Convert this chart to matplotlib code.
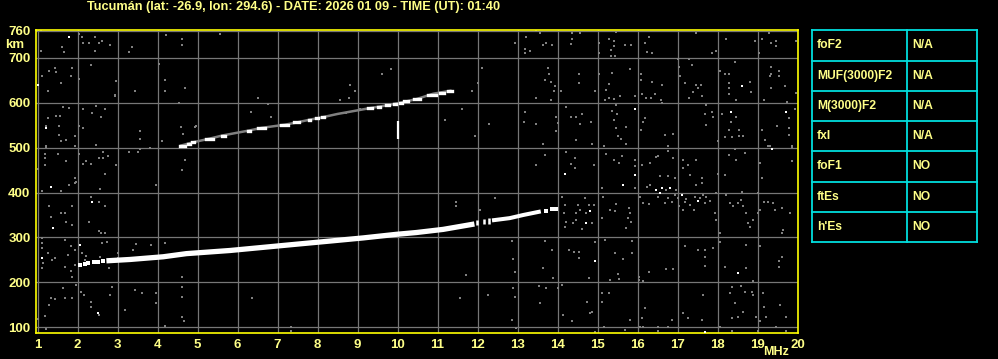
import matplotlib.pyplot as plt
import numpy as np

plt.rcParams['font.family'] = ['Liberation Sans', 'DejaVu Sans']

title = 'Tucumán (lat: -26.9, lon: 294.6) - DATE: 2026 01 09 - TIME (UT): 01:40'
freq_ticks = list(range(1, 21))
height_ticks = [100, 200, 300, 400, 500, 600, 700, 760]

param_names = ['foF2', 'MUF(3000)F2', 'M(3000)F2', 'fxI', 'foF1', 'ftEs', "h'Es"]
param_values = ['N/A', 'N/A', 'N/A', 'N/A', 'NO', 'NO', 'NO']

# main F trace (MHz, km)
trace_f = [2.72, 3.31, 4.14, 4.72, 5.81, 6.64, 7.47, 8.31, 9.14, 9.97, 10.47, 11.14, 11.92]
trace_h = [248, 251, 257, 264, 271, 278, 285, 292, 299, 307, 311, 318, 330]
tail_f = [12.36, 12.8, 13.14, 13.58]
tail_h = [338, 343, 350, 358]
trace_start = [(2.07, 239), (2.18, 242), (2.27, 244), (2.4, 245), (2.52, 245), (2.64, 247)]
gap_bars = [(11.99, 328, 338), (12.16, 329, 341), (12.29, 331, 343)]
tail_dots = [(13.72, 360), (13.85, 363), (13.95, 364)]

# second hop trace
hop_f = [4.56, 4.89, 5.3, 5.62, 6.28, 6.6, 7.18, 7.48, 7.79, 7.97, 8.14, 8.5, 9.31, 9.52, 9.72, 10.07, 10.47, 10.89, 11.35]
hop_h = [504, 512, 520, 527, 538, 544, 551, 556, 562, 565, 568, 575, 588, 591, 594, 600, 608, 620, 627]
hop_dashes = [(4.56, 4.68, 504), (4.76, 4.8, 508), (4.87, 4.92, 512), (5.22, 5.39, 520), (5.6, 5.68, 527),
              (6.26, 6.3, 538), (6.52, 6.68, 544), (7.08, 7.27, 551), (7.42, 7.54, 556), (7.78, 7.81, 562),
              (7.95, 8.0, 565), (8.12, 8.17, 568), (9.25, 9.35, 588), (9.5, 9.55, 591), (9.7, 9.78, 594),
              (9.92, 9.96, 597), (10.05, 10.1, 600), (10.15, 10.25, 603), (10.4, 10.55, 609),
              (10.75, 10.95, 618), (11.05, 11.15, 622), (11.25, 11.35, 627)]
spike = (10.02, 519, 559)

gray_noise = [
    (1.08, 761), (2.04, 752), (2.1, 747), (2.43, 746), (4.22, 750), (4.6, 742), (4.62, 729), (5.57, 752),
    (1.62, 724), (1.67, 713), (2.14, 733), (2.29, 733), (2.53, 733), (2.62, 738), (2.82, 729), (2.43, 716),
    (3.29, 713), (3.37, 724), (1.08, 716), (4.03, 687), (2.33, 683), (1.28, 670), (1.43, 678), (1.47, 669),
    (1.87, 678), (1.83, 660), (1.1, 660), (1.58, 643), (2.03, 652), (2.97, 648), (4.18, 650), (4.68, 633),
    (1.27, 626), (3.43, 626), (4.18, 626), (2.93, 614), (2.93, 618), (4.53, 600), (1.64, 591), (1.78, 588),
    (2.14, 585), (2.37, 576), (2.47, 592), (2.58, 569), (2.68, 585), (1.27, 566), (1.47, 570), (1.57, 570),
    (1.2, 548), (1.54, 548), (2.03, 548), (2.14, 544), (1.53, 529), (1.58, 514), (1.72, 518), (1.93, 525),
    (2.47, 505), (3.56, 538), (3.56, 520), (3.82, 499), (4.12, 514), (4.58, 545), (4.64, 531), (4.93, 545),
    (4.97, 549), (1.2, 503), (1.22, 502), (1.93, 503), (1.18, 486), (1.18, 477), (1.52, 485), (1.72, 470),
    (2.03, 486), (2.14, 464), (2.33, 464), (2.22, 470), (2.54, 477), (2.64, 477), (2.77, 481), (2.64, 490),
    (2.96, 462), (1.18, 462), (1.02, 452), (1.93, 432), (1.95, 423), (2.68, 442), (3.28, 490), (3.56, 498),
    (3.52, 490), (4.68, 473), (4.6, 451), (9.6, 665), (9.83, 674), (8.82, 639), (8.93, 626), (8.78, 611),
    (8.57, 607), (6.52, 611), (6.77, 597), (6.33, 580), (6.83, 568), (8.72, 577), (9.06, 585),
    (13.47, 761), (13.57, 755), (13.22, 747), (12.93, 733), (13.18, 720), (13.18, 711), (13.32, 716),
    (13.64, 729), (13.72, 733), (13.87, 729), (14.37, 755), (14.57, 755), (14.35, 741), (14.33, 731),
    (15.03, 733), (15.03, 711), (15.28, 742), (15.41, 737), (15.33, 718), (15.41, 726), (15.33, 703),
    (15.43, 703), (15.47, 758), (15.68, 729), (15.83, 729), (16.18, 733), (16.24, 713), (16.37, 711),
    (16.28, 747), (17.47, 755), (17.87, 711), (17.97, 716), (18.22, 742), (18.93, 737), (19.03, 711),
    (19.12, 742), (19.29, 755), (19.33, 733), (19.47, 737), (19.47, 726), (19.97, 737),
    (12.12, 678), (12.02, 643), (11.87, 626), (13.77, 678), (13.78, 665), (13.68, 651), (13.83, 646),
    (13.93, 637), (13.92, 626), (13.47, 611), (13.83, 607), (14.08, 626), (14.53, 665), (14.53, 643),
    (14.93, 626), (15.03, 663), (15.28, 642), (15.22, 629), (15.37, 667), (15.29, 611), (15.42, 609),
    (15.18, 607), (15.56, 614), (15.82, 674), (15.93, 614), (16.08, 665), (16.08, 651), (16.37, 646),
    (16.62, 640), (16.11, 620), (16.22, 611), (16.33, 611), (16.43, 620), (16.58, 607), (16.62, 600),
    (17.01, 698), (17.04, 679), (17.07, 659), (17.18, 644), (17.37, 683), (17.29, 698), (17.47, 640),
    (17.58, 640), (17.52, 633), (17.39, 624), (17.6, 616), (17.29, 611), (18.06, 670), (18.18, 665),
    (18.28, 665), (18.43, 691), (18.29, 644), (18.28, 633), (18.29, 620), (18.47, 605), (18.82, 646),
    (18.83, 624), (19.33, 679), (19.33, 665), (19.31, 659), (19.53, 670), (19.53, 659), (19.68, 637),
    (19.33, 633), (19.17, 607), (19.74, 602), (19.95, 622),
    (11.62, 586), (11.18, 562), (12.28, 553), (11.93, 527), (13.18, 579), (13.17, 557), (13.47, 553),
    (13.97, 568), (13.97, 536), (14.0, 555), (14.22, 591), (14.33, 568), (14.46, 568), (14.62, 575),
    (14.57, 553), (14.83, 557), (14.47, 518), (14.87, 508), (15.35, 582), (15.47, 594), (15.49, 574),
    (15.41, 562), (15.45, 544), (15.72, 546), (15.51, 525), (15.58, 519), (15.72, 508), (16.08, 540),
    (16.18, 566), (16.14, 557), (16.68, 529), (16.89, 531), (16.77, 503), (17.72, 594), (17.87, 580),
    (17.68, 574), (17.89, 568), (17.72, 550), (18.12, 575), (18.46, 568), (18.33, 557), (18.28, 540),
    (18.54, 540), (18.18, 523), (18.37, 523), (18.54, 527), (18.64, 527), (18.02, 514), (19.12, 540),
    (19.18, 518), (19.49, 549), (19.78, 566), (19.78, 544), (19.78, 529), (19.93, 585), (19.87, 501),
    (19.31, 503), (13.68, 484), (13.47, 462), (13.64, 508), (14.21, 490), (14.43, 477), (14.43, 455),
    (14.33, 464), (14.9, 462), (15.17, 503), (15.22, 486), (15.6, 481), (15.41, 473), (15.54, 466),
    (15.93, 473), (15.93, 458), (16.12, 462), (16.32, 466), (16.47, 479), (16.51, 481), (16.77, 492),
    (16.89, 477), (16.57, 436), (16.77, 436), (16.93, 433), (17.14, 473), (17.27, 462), (17.14, 455),
    (17.31, 440), (17.47, 473), (17.62, 433), (18.02, 442), (18.28, 483), (18.43, 496), (18.68, 488),
    (18.18, 438), (18.47, 473), (19.07, 466), (19.27, 503), (19.87, 503), (19.87, 470), (19.12, 433),
    (1.12, 404), (1.58, 404), (1.78, 417), (1.93, 422), (2.57, 408), (3.97, 417), (1.28, 369), (1.58, 355),
    (1.68, 355), (1.72, 335), (1.87, 369), (1.33, 346), (1.87, 328), (2.33, 391), (2.53, 378), (2.28, 335),
    (2.68, 369), (2.53, 315), (2.58, 309), (2.68, 311), (1.12, 298), (1.12, 287), (1.12, 276), (1.14, 244),
    (1.37, 250), (1.43, 254), (1.27, 265), (1.68, 294), (1.77, 261), (1.83, 280), (1.93, 272), (2.1, 265),
    (2.21, 259), (2.18, 250), (2.56, 257), (2.74, 291), (2.62, 288), (1.12, 231), (1.68, 235), (1.83, 226),
    (1.93, 239), (1.87, 213), (1.97, 194), (2.08, 179), (2.16, 172), (2.78, 231), (3.0, 265), (3.0, 254),
    (3.39, 271), (3.46, 286), (3.83, 283), (4.18, 288), (1.64, 187), (1.33, 165), (1.43, 162), (1.68, 165),
    (1.87, 165), (1.28, 150), (1.18, 125), (1.02, 118), (1.22, 96), (2.33, 157), (2.33, 145), (2.53, 127),
    (2.81, 172), (2.87, 189), (3.18, 139), (3.43, 182), (3.62, 177), (3.97, 177), (3.97, 153), (4.18, 103),
    (4.62, 213), (4.62, 190), (4.6, 168), (4.62, 124), (4.67, 113), (7.33, 101), (7.33, 92), (6.37, 165),
    (14.12, 391), (14.18, 372), (14.17, 354), (14.22, 335), (14.18, 324), (14.39, 332), (14.47, 354),
    (14.46, 339), (14.52, 372), (14.57, 361), (14.6, 318), (14.68, 387), (14.72, 354), (14.78, 372),
    (14.91, 372), (14.85, 332), (15.12, 410), (15.14, 391), (15.1, 343), (15.31, 361), (15.45, 375),
    (15.43, 358), (15.78, 365), (15.81, 354), (15.77, 343), (15.83, 335), (15.72, 320), (15.93, 410),
    (16.06, 391), (16.14, 376), (16.24, 413), (16.31, 417), (16.28, 375), (16.52, 389), (16.72, 406),
    (16.77, 387), (16.68, 376), (16.85, 380), (16.93, 395), (16.97, 406), (17.0, 387), (17.04, 369),
    (17.18, 380), (17.14, 361), (17.22, 385), (17.31, 372), (17.43, 391), (17.41, 361), (17.47, 417),
    (17.56, 387), (17.62, 421), (17.64, 395), (17.68, 376), (17.72, 391), (17.81, 382), (17.93, 354),
    (17.97, 398), (17.95, 339), (18.07, 311), (18.22, 395), (18.32, 376), (18.39, 370), (18.51, 376),
    (18.58, 384), (18.6, 402), (18.64, 369), (18.72, 354), (18.77, 332), (18.81, 324), (18.89, 339),
    (19.02, 398), (19.02, 354), (19.06, 361), (19.16, 380), (19.27, 380), (19.39, 376), (19.43, 361),
    (19.62, 365), (19.64, 317), (19.62, 309), (19.82, 354),
    (12.87, 293), (12.89, 252), (12.93, 222), (12.89, 187), (12.93, 168), (12.96, 98), (12.85, 116),
    (11.47, 380), (11.47, 369), (11.72, 217), (11.56, 165), (12.06, 361), (12.27, 172), (12.43, 387),
    (13.54, 191), (13.56, 153), (13.64, 231), (13.72, 187), (13.87, 271), (13.89, 209), (14.02, 187),
    (14.12, 194), (14.14, 127), (14.37, 113), (13.68, 293), (14.29, 271), (14.42, 268), (14.53, 254),
    (14.53, 268), (14.93, 291), (14.78, 209), (14.81, 131), (14.93, 90), (15.18, 294), (15.43, 265),
    (15.64, 251), (15.87, 293), (15.87, 266), (15.52, 219), (15.54, 208), (15.31, 205), (15.12, 177),
    (15.29, 177), (15.12, 157), (15.17, 101), (14.74, 157), (14.85, 133), (15.81, 116), (15.68, 94),
    (16.04, 211), (16.04, 205), (16.14, 202), (16.29, 222), (16.18, 142), (16.12, 120), (16.06, 101),
    (16.72, 229), (16.89, 229), (16.52, 101), (16.87, 116), (16.77, 101), (16.14, 101), (17.18, 280),
    (17.52, 272), (17.68, 271), (17.89, 276), (17.68, 256), (17.68, 237), (18.06, 289), (18.18, 235),
    (18.35, 189), (18.43, 153), (18.72, 283), (18.72, 231), (18.89, 203), (19.06, 280), (19.62, 257),
    (19.54, 248), (19.54, 235), (18.97, 124), (19.14, 176), (19.17, 146), (19.2, 124), (19.06, 113),
    (19.56, 150), (19.72, 124), (19.47, 101), (18.64, 135), (18.51, 124), (18.35, 120), (18.06, 101),
    (17.64, 172), (17.62, 116), (17.14, 131), (17.27, 120), (18.31, 176), (18.58, 191), (18.68, 179),
    (18.87, 179), (18.89, 173), (19.02, 92), (19.72, 92), (18.35, 92), (16.52, 92),
]

white_noise = [
    (1.78, 747), (1.22, 544), (1.33, 412), (1.39, 320), (2.37, 378), (1.12, 254), (2.07, 283),
    (2.5, 131), (18.62, 637), (15.93, 586), (18.33, 579), (19.7, 579), (19.37, 496), (14.18, 441),
    (15.93, 438), (14.72, 333), (14.81, 358), (15.64, 417), (16.47, 406), (16.57, 400), (16.62, 410),
    (16.82, 410), (17.12, 395), (17.52, 382), (14.93, 248), (18.51, 220), (17.68, 90), (1.0, 640),
]

fig = plt.figure(figsize=(9.98, 3.59), dpi=100, facecolor='black')

# overlay in pixel coordinates for the table and loose labels
over = fig.add_axes([0, 0, 1, 1])
over.set_xlim(0, 998)
over.set_ylim(359, 0)
over.axis('off')
over.patch.set_alpha(0)

txt_col = '#ffff88'
cyan = '#00dede'

ax = fig.add_axes([36 / 998, (359 - 333) / 359, 762 / 998, 303.5 / 359])
ax.set_facecolor('black')
ax.set_xlim(0.96, 20.01)
ax.set_ylim(87.3, 763)

ax.set_xticks(freq_ticks)
ax.set_yticks(height_ticks)
ax.grid(True, color='#777777', lw=0.9)
ax.set_axisbelow(True)
ax.tick_params(length=0, colors=txt_col, labelsize=9.5, pad=4)
for lab in ax.get_xticklabels() + ax.get_yticklabels():
    lab.set_fontweight('bold')
for sp in ax.spines.values():
    sp.set_color('#ffff00')
    sp.set_linewidth(1.2)

gf, gh = zip(*gray_noise)
ax.scatter(gf, gh, s=3.5, marker='s', color='#808080', lw=0, zorder=2)

# second hop trace
ax.plot(hop_f, hop_h, color='#808080', lw=1.8, zorder=3, solid_capstyle='butt')
for f0, f1, h in hop_dashes:
    ax.plot([f0, f1], [h, h], color='white', lw=2.4, zorder=4, solid_capstyle='projecting')
ax.vlines(spike[0], spike[1], spike[2], color='white', lw=1.6, zorder=4)

# main trace
ax.plot(trace_f, trace_h, color='white', lw=3.8, zorder=4, solid_capstyle='butt')
ax.plot(tail_f, tail_h, color='white', lw=2.9, zorder=4, solid_capstyle='butt')
sf, sh = zip(*trace_start)
ax.scatter(sf, sh, s=7, marker='s', color='white', lw=0, zorder=4)
for f, lo, hi in gap_bars:
    ax.vlines(f, lo, hi, color='white', lw=1.8, zorder=4)
df, dh = zip(*tail_dots)
ax.scatter(df, dh, s=5, marker='s', color='white', lw=0, zorder=4)

wf, wh = zip(*white_noise)
ax.scatter(wf, wh, s=4, marker='s', color='white', lw=0, zorder=5)

# loose labels
over.text(294, 7, title, color=txt_col, fontsize=9.2, fontweight='bold', ha='center', va='center')
over.text(5, 45, 'km', color=txt_col, fontsize=9.5, fontweight='bold', ha='left', va='center')
over.text(789, 352, 'MHz', color=txt_col, fontsize=9, fontweight='bold', ha='right', va='center')

# parameter table
left, mid, right = 812, 907, 977
top, row_h = 30.3, 30.24
n = len(param_names)
for i in range(n + 1):
    over.plot([left, right], [top + i * row_h] * 2, color=cyan, lw=1.3)
for x in (left, mid, right):
    over.plot([x, x], [top, top + n * row_h], color=cyan, lw=1.3)
for i, (name, val) in enumerate(zip(param_names, param_values)):
    yc = top + (i + 0.5) * row_h
    over.text(left + 5, yc, name, color=txt_col, fontsize=8.7, fontweight='bold', va='center')
    over.text(mid + 5, yc, val, color=txt_col, fontsize=8.7, fontweight='bold', va='center')

fig.savefig('out.png', dpi=100, facecolor='black')
